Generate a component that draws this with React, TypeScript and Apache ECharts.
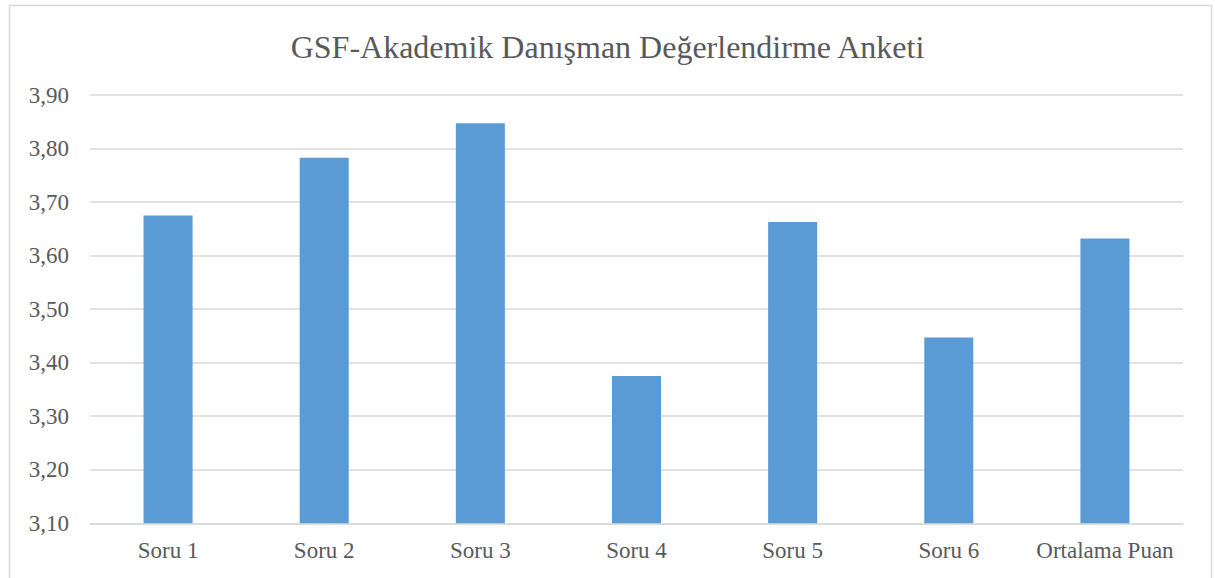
import React, { useEffect, useRef } from "react";
import * as echarts from "echarts";

const categories = ["Soru 1", "Soru 2", "Soru 3", "Soru 4", "Soru 5", "Soru 6", "Ortalama Puan"];
const values = [3.675, 3.783, 3.847, 3.375, 3.663, 3.447, 3.632];
const titleText = "GSF-Akademik Danışman Değerlendirme Anketi";
const yMin = 3.1;
const yMax = 3.9;
const yStep = 0.1;

export default function App() {
  const ref = useRef<HTMLDivElement>(null);
  useEffect(() => {
    if (!ref.current) return;
    const chart = echarts.init(ref.current, null, { renderer: "svg" });
    const font = "'Liberation Serif', 'Times New Roman', serif";
    chart.setOption({
      animation: false,
      backgroundColor: "#ffffff",
      textStyle: { fontFamily: font },
      title: {
        text: titleText,
        left: "center",
        top: 26,
        textStyle: { fontFamily: font, fontSize: 32, fontWeight: "normal", color: "#595959" },
      },
      graphic: [
        {
          type: "rect",
          shape: { x: 9.5, y: 5.5, width: 1202, height: 600 },
          style: { fill: "none", stroke: "#D9D9D9", lineWidth: 1.5 },
          silent: true,
        },
      ],
      grid: { left: 90, right: 32, top: 95, height: 428.3 },
      xAxis: {
        type: "category",
        data: categories,
        axisLine: { show: true, lineStyle: { color: "#D9D9D9", width: 1.5 } },
        axisTick: { show: false },
        axisLabel: { color: "#595959", fontSize: 23, fontFamily: font, margin: 16, interval: 0 },
      },
      yAxis: {
        type: "value",
        min: yMin,
        max: yMax,
        interval: yStep,
        axisLine: { show: false },
        axisTick: { show: false },
        splitLine: { lineStyle: { color: "#D9D9D9", width: 1.5 } },
        axisLabel: {
          color: "#595959",
          fontSize: 23,
          fontFamily: font,
          margin: 21,
          formatter: (v: number) => v.toFixed(2).replace(".", ","),
        },
      },
      series: [
        {
          type: "bar",
          data: values,
          barWidth: "31.4%",
          itemStyle: { color: "#5B9BD5" },
        },
      ],
    });
    return () => chart.dispose();
  }, []);
  return (
    <div
      ref={ref}
      style={{ position: "absolute", left: 0, top: 0, width: 1215, height: 578 }}
    />
  );
}
